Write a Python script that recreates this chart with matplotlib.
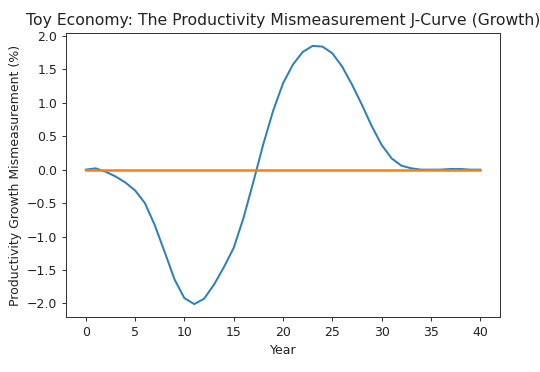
import matplotlib
matplotlib.use("Agg")
import matplotlib.pyplot as plt
import numpy as np

years = list(range(0, 41))
mismeasurement = [0.0, 0.02, -0.03, -0.10, -0.19, -0.31, -0.50, -0.83, -1.23, -1.64,
                  -1.92, -2.01, -1.93, -1.72, -1.46, -1.17, -0.72, -0.18, 0.38, 0.88,
                  1.29, 1.57, 1.76, 1.85, 1.84, 1.74, 1.54, 1.27, 0.97, 0.65,
                  0.37, 0.17, 0.06, 0.02, 0.0, 0.0, 0.0, 0.01, 0.01, 0.0, 0.0]
baseline = [0.0] * len(years)

fig = plt.figure(figsize=(6.0, 372/90), dpi=90)
ax = fig.add_axes([66/540, 55/372, 434/540, 284/372])
ax.plot(years, mismeasurement, color="#2b80bd", lw=1.6)
ax.plot(years, baseline, color="#ff7f0e", lw=2.0)
ax.set_xticks([0, 5, 10, 15, 20, 25, 30, 35, 40])
ax.set_yticks([-2.0, -1.5, -1.0, -0.5, 0.0, 0.5, 1.0, 1.5, 2.0])
for s in ax.spines.values():
    s.set_color("#333333")
ax.tick_params(colors="#333333", labelcolor="#222222")
ax.set_xlabel("Year", fontsize=10, color="#222222")
ax.set_ylabel("Productivity Growth Mismeasurement (%)", fontsize=10, color="#222222")
ax.set_title("Toy Economy: The Productivity Mismeasurement J-Curve (Growth)", fontsize=12.5, color="#222222")
fig.savefig("out.png", dpi=90)
